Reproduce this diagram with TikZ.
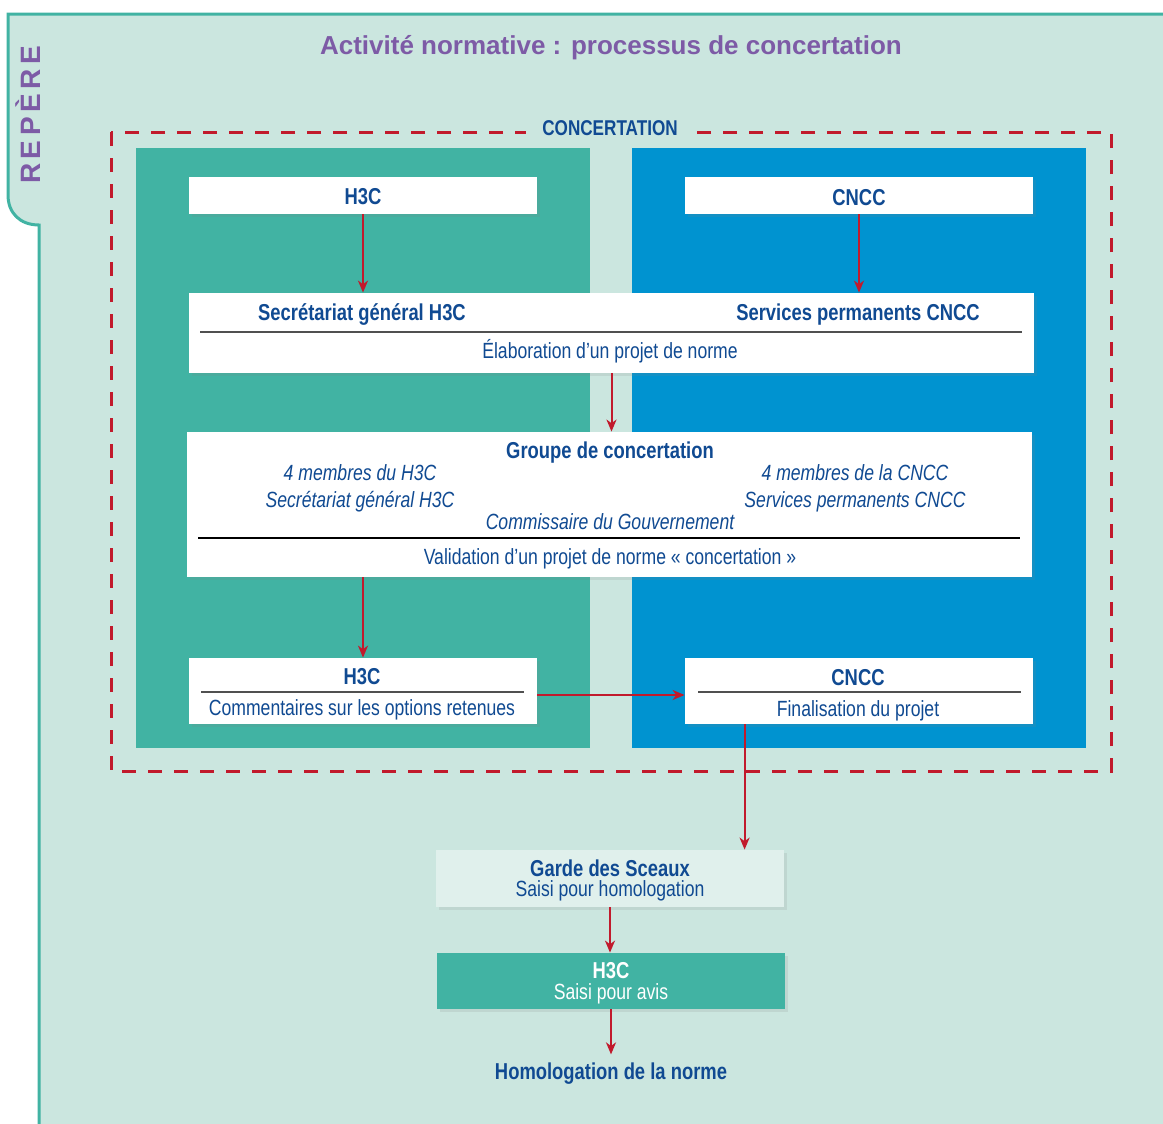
\documentclass[tikz,border=0pt]{standalone}
\usepackage{fontspec}
\setmainfont[FakeStretch=0.8]{Liberation Sans}
\newfontfamily\titlefont{Liberation Sans}
\newfontfamily\tabfont[LetterSpace=16]{Liberation Sans}
\usetikzlibrary{arrows.meta,positioning,shadows}
\definecolor{mint}{RGB}{203,230,223}
\definecolor{pale}{RGB}{224,240,236}
\definecolor{tealc}{RGB}{65,179,163}
\definecolor{bluec}{RGB}{0,147,208}
\definecolor{redc}{RGB}{193,26,44}
\definecolor{navy}{RGB}{16,74,146}
\definecolor{purp}{RGB}{125,91,166}
\definecolor{rulec}{RGB}{80,80,80}
\begin{document}
\begin{tikzpicture}[x=0.5pt,y=-0.5pt,
    every node/.style={text=navy},
    lbl/.style={inner sep=0pt,text height=7.9pt,text depth=0pt,font=\fontsize{11}{13}\selectfont},
    hdr/.style={lbl,text height=8.2pt,font=\bfseries\fontsize{11.5}{13}\selectfont},
    memb/.style={lbl,font=\itshape\fontsize{11}{13}\selectfont},
    box/.style={rectangle,fill=white,inner sep=0pt,drop shadow={shadow xshift=1.6pt,shadow yshift=-1.6pt,opacity=0.15}},
    divider/.style={draw=rulec,line width=0.7pt},
    flow/.style={draw=redc,line width=1pt,-{Stealth[length=6pt,width=5pt,inset=1.8pt]}},
    dashbox/.style={draw=redc,line width=1.5pt,dash pattern=on 7pt off 6pt}]
\useasboundingbox (0,0) rectangle (1163,1124);
\fill[mint] (1163,14) -- (8,14) -- (8,195) .. controls (8,213) and (20,225) .. (39,225) -- (39,1124) -- (1163,1124) -- cycle;
\draw[tealc,line width=1.5pt] (1166,14) -- (8,14) -- (8,195) .. controls (8,213) and (20,225) .. (39,225) -- (39,1127);
\node[text=purp,rotate=90,inner sep=0pt,text height=10pt,text depth=0pt,font=\tabfont\bfseries\fontsize{14}{14}\selectfont] (repere) at (30,115) {REPÈRE};
\node[text=purp,inner sep=0pt,text height=9.3pt,text depth=0pt,font=\titlefont\bfseries\fontsize{13}{15}\selectfont] (titre) at (611,45) {Activité normative : processus de concertation};

\draw[dashbox] (111,132) rectangle (1111,771);
\node[hdr,fill=mint,inner xsep=8pt,inner ysep=3pt,font=\bfseries\fontsize{10.7}{13}\selectfont] (concert) at (610,127) {CONCERTATION};

\fill[tealc] (136,148) rectangle (590,748);
\fill[bluec] (632,148) rectangle (1086,748);

\node[box,minimum width=174pt,minimum height=18.5pt] (h3ctop) at (363,195.5) {};
\node[hdr] (h3ctxt) at (363,196) {H3C};
\node[box,minimum width=174pt,minimum height=18.5pt] (cncctop) at (859,195.5) {};
\node[hdr] (cncctxt) at (859,197) {CNCC};

\node[box,minimum width=422.5pt,minimum height=40pt] (secr) at (611.5,333) {};
\node[hdr] (secrh3c) at (362,312) {Secrétariat général H3C};
\node[hdr] (secrcncc) at (858,312) {Services permanents CNCC};
\draw[divider] (200,332) -- (1022,332);
\node[lbl] (elab) at (610,351) {Élaboration d’un projet de norme};

\node[box,minimum width=422.5pt,minimum height=72.5pt] (groupe) at (609.5,504.5) {};
\node[hdr] (grtitre) at (610,450) {Groupe de concertation};
\node[memb] (memh3c) at (360,473) {4 membres du H3C};
\node[memb] (sgh3c) at (360,500) {Secrétariat général H3C};
\node[memb] (memcncc) at (855,473) {4 membres de la CNCC};
\node[memb] (spcncc) at (855,500) {Services permanents CNCC};
\node[memb] (commis) at (610,522) {Commissaire du Gouvernement};
\draw[divider,draw=black] (198,538) -- (1020,538);
\node[lbl] (valid) at (610,557) {Validation d’un projet de norme «~concertation~»};

\node[box,minimum width=174pt,minimum height=33pt] (h3cbot) at (363,691) {};
\node[hdr] (h3cbtxt) at (362,676) {H3C};
\draw[divider] (201,692) -- (524,692);
\node[lbl] (comm) at (362,708) {Commentaires sur les options retenues};
\node[box,minimum width=174pt,minimum height=33pt] (cnccbot) at (859,691) {};
\node[hdr] (cnccbtxt) at (858,677) {CNCC};
\draw[divider] (698,692) -- (1021,692);
\node[lbl] (final) at (858,709) {Finalisation du projet};

\node[box,fill=pale,minimum width=174pt,minimum height=28.5pt] (garde) at (610,878.5) {};
\node[hdr] (gardetxt) at (610,868) {Garde des Sceaux};
\node[lbl] (homsaisi) at (610,889) {Saisi pour homologation};
\node[box,fill=tealc,minimum width=174pt,minimum height=28pt] (avis) at (611,981) {};
\node[hdr,text=white] (avistxt) at (611,970) {H3C};
\node[lbl,text=white] (avissaisi) at (611,992) {Saisi pour avis};
\node[hdr] (homol) at (611,1071) {Homologation de la norme};

\coordinate (fin) at ([xshift=30pt]cnccbot.south west);
\path[flow] (h3ctop.south) -- (h3ctop.south |- secr.north);
\path[flow] (cncctop.south) -- (cncctop.south |- secr.north);
\path[flow] (secr.south) -- (secr.south |- groupe.north);
\path[flow] (h3cbot.north |- groupe.south) -- (h3cbot.north);
\path[flow] ([yshift=-2pt]h3cbot.east) -- ([yshift=-2pt]cnccbot.west);
\path[flow] (fin) -- (fin |- garde.north);
\path[flow] (garde.south) -- (garde.south |- avis.north);
\path[flow] (avis.south) -- ([yshift=4pt]homol.north);
\end{tikzpicture}
\end{document}
